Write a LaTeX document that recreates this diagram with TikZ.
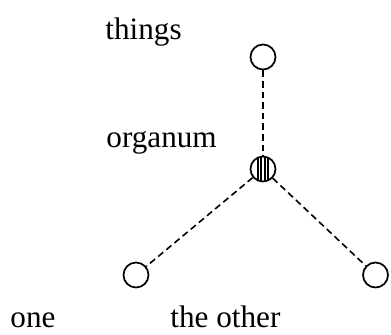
\documentclass[tikz,border=0pt]{standalone}
\usepackage{fontspec}
\setmainfont{Liberation Serif}
\usetikzlibrary{positioning}

\begin{document}
\begin{tikzpicture}[x=0.5pt,y=-0.5pt,
 knot/.style={circle,draw,line width=.85pt,minimum size=12.5pt,inner sep=0pt},
 hatched/.style={knot,path picture={\foreach \dx in {-2.6,-0.9,0.9,2.6}
   \draw[line width=.8pt] ([xshift=\dx pt]path picture bounding box.north)--([xshift=\dx pt]path picture bounding box.south);}},
 link/.style={draw,line width=.8pt,dash pattern=on 3.3pt off 2pt},
 lbl/.style={anchor=base west,inner sep=0pt,font=\fontsize{15.6}{18}\selectfont}]
\useasboundingbox (0,0) rectangle (391,334);
\node[knot] (things) at (263,57) {};
\node[hatched] (organum) at (263,169) {};
\node[knot] (one) at (136,275) {};
\node[knot] (other) at (375.5,275) {};
\node[lbl] (lthings) at (105,39) {things};
\node[lbl] (lorganum) at (106,147) {organum};
\node[lbl] (lone) at (10,327) {one};
\node[lbl] (lother) at (170,327) {the other};
\draw[link] (things)--(organum);
\draw[link] (organum)--(one);
\draw[link] (organum)--(other);
\end{tikzpicture}
\end{document}
